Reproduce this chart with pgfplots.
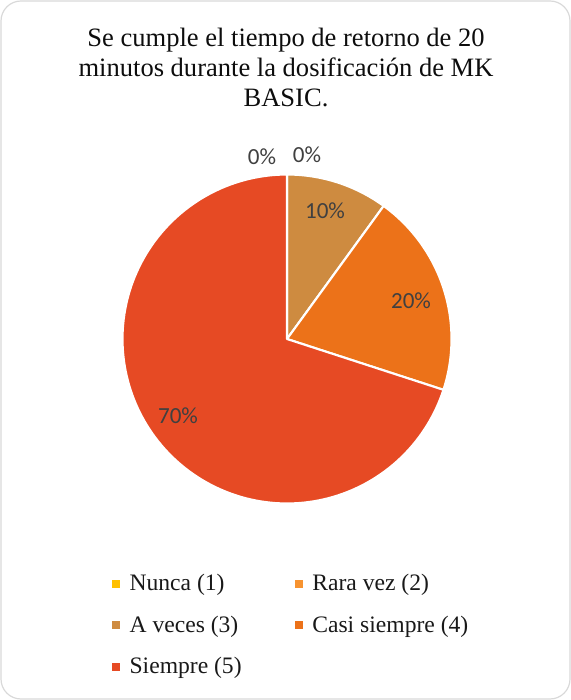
\documentclass[border=0pt]{standalone}
\usepackage{pgfplots}
\pgfplotsset{compat=1.18}
\usepackage{pgfplotstable}
\usepackage{fontspec}
\setmainfont{Liberation Serif}
\newfontfamily\labelfont{Carlito}
\definecolor{cNunca}{HTML}{FFC000}
\definecolor{cRara}{HTML}{F79330}
\definecolor{cAveces}{HTML}{CE8B40}
\definecolor{cCasi}{HTML}{EC7219}
\definecolor{cSiempre}{HTML}{E64A24}
\definecolor{lblgray}{HTML}{404040}
\definecolor{framegray}{HTML}{D9D9D9}

\pgfplotstableread{
cat value
1 0
2 0
3 10
4 20
5 70
}\piedata

\begin{document}%
\begin{tikzpicture}
\pgfplotstablegetelem{2}{value}\of\piedata \let\vC\pgfplotsretval
\pgfplotstablegetelem{3}{value}\of\piedata \let\vD\pgfplotsretval
\pgfplotstablegetelem{4}{value}\of\piedata \let\vE\pgfplotsretval
\pgfmathsetmacro{\aC}{90}
\pgfmathsetmacro{\bC}{\aC-3.6*\vC}
\pgfmathsetmacro{\bD}{\bC-3.6*\vD}
\pgfmathsetmacro{\bE}{\bD-3.6*\vE}
\begin{axis}[
  scale only axis, width=428.25pt, height=525pt,
  xmin=0, xmax=571, ymin=0, ymax=700,
  hide axis, clip=false,
  legend cell align=left,
  legend style={draw=none, fill=none, at={(axis cs:108,131)}, anchor=north west,
    legend columns=2, font=\fontsize{17.7}{20}\selectfont, text=black!90,
    row sep=13.3pt,
    /tikz/every odd column/.append style={column sep=5pt},
    /tikz/every even column/.append style={column sep=38pt}},
  legend image code/.code={\fill[#1, draw=none] (0pt,-3pt) rectangle (6pt,3pt);},
]
\path (axis cs:0,0) rectangle (axis cs:571,700);
\draw[framegray, line width=0.9pt, rounded corners=15pt] (axis cs:1,1) rectangle (axis cs:570,699);

\addlegendimage{fill=cNunca, draw=none}\addlegendentry{Nunca (1)}
\addlegendimage{fill=cRara, draw=none}\addlegendentry{Rara vez (2)}
\addlegendimage{fill=cAveces, draw=none}\addlegendentry{A veces (3)}
\addlegendimage{fill=cCasi, draw=none}\addlegendentry{Casi siempre (4)}
\addlegendimage{fill=cSiempre, draw=none}\addlegendentry{Siempre (5)}

\addplot[forget plot, fill=cAveces, draw=white, line width=1.6pt, line join=round, domain=\bC:\aC, samples=40, variable=\t]
  ({287+164.5*cos(\t)},{361+164.5*sin(\t)}) -- (axis cs:287,361) -- cycle;
\addplot[forget plot, fill=cCasi, draw=white, line width=1.6pt, line join=round, domain=\bD:\bC, samples=60, variable=\t]
  ({287+164.5*cos(\t)},{361+164.5*sin(\t)}) -- (axis cs:287,361) -- cycle;
\addplot[forget plot, fill=cSiempre, draw=white, line width=1.6pt, line join=round, domain=\bE:\bD, samples=150, variable=\t]
  ({287+164.5*cos(\t)},{361+164.5*sin(\t)}) -- (axis cs:287,361) -- cycle;

\begin{scope}[every node/.style={font=\labelfont\fontsize{17.3}{20}\selectfont, text=lblgray, inner sep=0pt}]
\node at (axis cs:262,543) {0\%};
\node at (axis cs:307,545) {0\%};
\node at (axis cs:325,489) {10\%};
\node at (axis cs:411,399) {20\%};
\node at (axis cs:178,284) {70\%};
\end{scope}

\begin{scope}[every node/.style={font=\fontsize{19.9}{22.5}\selectfont, text=black!95, anchor=base, inner sep=0pt}]
\node at (axis cs:286,653) {Se cumple el tiempo de retorno de 20};
\node at (axis cs:286,623) {minutos durante la dosificación de MK};
\node at (axis cs:286,593) {BASIC.};
\end{scope}
\end{axis}
\end{tikzpicture}%
\end{document}
